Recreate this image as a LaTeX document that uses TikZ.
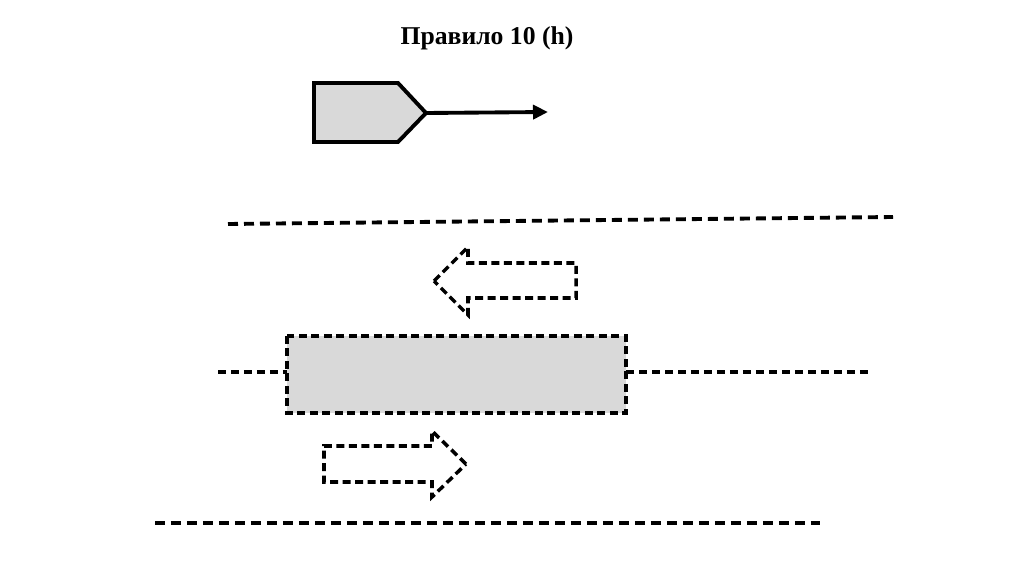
\documentclass[tikz,border=0pt]{standalone}
\usepackage{fontspec}
\setmainfont{Liberation Serif}
\usetikzlibrary{arrows.meta,calc}
\tikzset{
  hull/.style={draw=black,fill=black!15,line width=2.2pt,line join=miter},
  lane/.style={line width=2.2pt,dash pattern=on 0.2cm off 0.12cm},
  ghost/.style={draw=black,line width=2pt,dash pattern=on 0.16cm off 0.09cm,line join=miter},
}

\begin{document}
\begin{tikzpicture}[x=0.02cm,y=-0.02cm]
    \useasboundingbox (0,0) rectangle (1024,574);
    \node [font=\bfseries\fontsize{14.6}{17}\selectfont] (title) at (487,38) {Правило 10 (h)};
    % own vessel and its heading
    \draw [hull] (314,83) -- (398,83) -- (426,113) coordinate (bow) -- (398,142) -- (314,142) -- cycle;
    \coordinate (head) at (548,112);
    \draw [line width=2.2pt,-{Triangle[length=0.3cm,width=0.28cm]}] (bow) -- (head);
    % lane limits
    \draw [lane] (228,224) -- (893,217);
    \draw [lane] (155,523) -- (820,523);
    % separation zone
    \draw [ghost,line width=1.8pt,dash pattern=on 0.16cm off 0.1cm] (218,372) -- (287,372) (626,372) -- (870,372);
    \draw [ghost,fill=black!15] (287,336) rectangle (626,413);
    % traffic directions
    \draw [ghost] (434,281) -- (468,247) -- (468,263) -- (576,263) -- (576,298) -- (468,298) -- (468,315) -- cycle;
    \draw [ghost] (466,464) -- (432,431) -- (432,446) -- (324,446) -- (324,482) -- (432,482) -- (432,497) -- cycle;
\end{tikzpicture}
\end{document}
